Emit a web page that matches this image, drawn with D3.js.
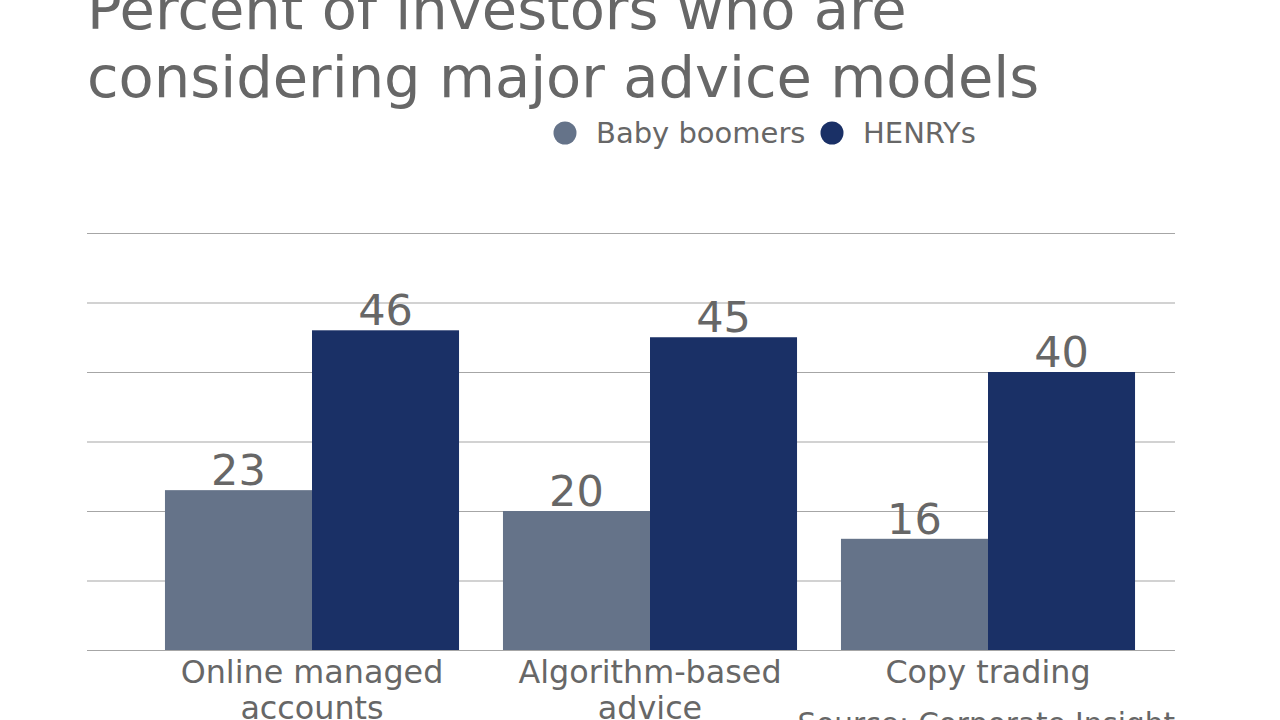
<!DOCTYPE html>
<html>
<head>
<meta charset="utf-8">
<script src="https://cdn.jsdelivr.net/npm/d3@7"></script>
<style>
  body { margin: 0; background: #fff; }
  svg { display: block; font-family: "DejaVu Sans", Verdana, sans-serif; }
</style>
</head>
<body>
<svg width="1280" height="720"></svg>
<script>
var categories = [["Online managed", "accounts"], ["Algorithm-based", "advice"], ["Copy trading"]];
var seriesNames = ["Baby boomers", "HENRYs"];
var boomers = [23, 20, 16];
var henrys = [46, 45, 40];
var yTicks = [0, 10, 20, 30, 40, 50, 60];
var colors = ["#657389", "#1a3066"];
var textColor = "#676767";

var svg = d3.select("svg");
var keys = categories.map(function (c) { return c.join(" "); });

var x = d3.scaleBand().domain(keys).range([143, 1157]).paddingInner(0.13).paddingOuter(0.065);
var xs = d3.scaleBand().domain(seriesNames).range([0, x.bandwidth()]);
var y = d3.scaleLinear().domain([0, 60]).range([650, 233]);

// title
svg.append("text").attr("x", 87).attr("y", 29)
  .attr("font-size", 57.5).attr("fill", textColor)
  .text("Percent of investors who are");
svg.append("text").attr("x", 87).attr("y", 97)
  .attr("font-size", 57.5).attr("fill", textColor)
  .text("considering major advice models");

// legend
var legX = [565, 832];
seriesNames.forEach(function (s, i) {
  svg.append("circle").attr("cx", legX[i]).attr("cy", 133).attr("r", 11.5).attr("fill", colors[i]);
  svg.append("text").attr("x", legX[i] + 31).attr("y", 143)
    .attr("font-size", 29).attr("fill", textColor).text(s);
});

// grid
var yAxis = d3.axisLeft(y).tickValues(yTicks).tickSize(-1088).tickFormat("");
var g = svg.append("g").attr("transform", "translate(1175,0)").call(yAxis);
g.select(".domain").remove();
g.selectAll("line").attr("x1", -1088).attr("x2", 0)
  .attr("stroke", "#a6a6a6").attr("stroke-width", 1.2);

// bars
var data = keys.map(function (k, i) { return { key: k, values: [boomers[i], henrys[i]] }; });
var groups = svg.selectAll(".grp").data(data).enter().append("g")
  .attr("transform", function (d) { return "translate(" + x(d.key) + ",0)"; });
groups.selectAll("rect").data(function (d) { return d.values; }).enter().append("rect")
  .attr("x", function (v, i) { return xs(seriesNames[i]); })
  .attr("width", xs.bandwidth())
  .attr("y", function (v) { return y(v); })
  .attr("height", function (v) { return y(0) - y(v); })
  .attr("fill", function (v, i) { return colors[i]; });
groups.selectAll(".val").data(function (d) { return d.values; }).enter().append("text")
  .attr("x", function (v, i) { return xs(seriesNames[i]) + xs.bandwidth() / 2; })
  .attr("y", function (v) { return y(v) - 5; })
  .attr("text-anchor", "middle").attr("font-size", 43).attr("fill", textColor)
  .text(function (v) { return v; });

// category labels
categories.forEach(function (lines, i) {
  var t = svg.append("text").attr("text-anchor", "middle").attr("font-size", 31.8).attr("fill", textColor);
  lines.forEach(function (l, j) {
    t.append("tspan").attr("x", x(keys[i]) + x.bandwidth() / 2).attr("y", 683 + j * 36).text(l);
  });
});

// source
svg.append("text").attr("x", 1175).attr("y", 734).attr("text-anchor", "end")
  .attr("font-size", 29.5).attr("fill", textColor).text("Source: Corporate Insight");
</script>
</body>
</html>
